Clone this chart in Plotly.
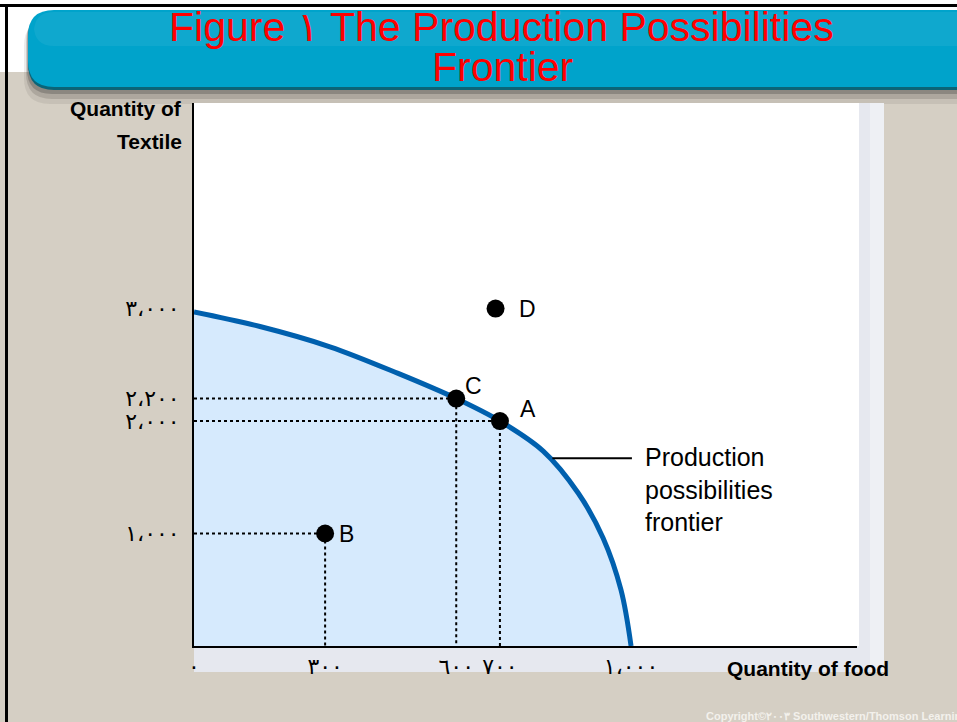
import plotly.graph_objects as go

# production possibilities frontier
ppf_food = [0, 151, 311, 467, 600, 700, 799, 879, 936, 977, 1000]
ppf_textile = [2970, 2840, 2660, 2423, 2200, 2000, 1733, 1360, 960, 498, 0]

point_names = ["A", "B", "C", "D"]
point_food = [700, 300, 600, 690]
point_textile = [2000, 1000, 2200, 3000]

x_tick_vals = [0, 300, 600, 700, 1000]
x_tick_text = ["٠", "٣٠٠", "٦٠٠", "٧٠٠", "١،٠٠٠"]
y_tick_vals = [1000, 2000, 2200, 3000]
y_tick_text = ["١،٠٠٠", "٢،٠٠٠", "٢،٢٠٠", "٣،٠٠٠"]

frontier_label = "Production<br>possibilities<br>frontier"
leader_food = [820, 1002]
leader_textile = 1670

# pixel box of the plot area
L, R, T, B = 194, 857, 103, 646
W, H = 957, 722


def X(px):
    return (px - L) / (R - L)


def Y(py):
    return (B - py) / (B - T)


def rect(x0, y0, x1, y1, color, **kw):
    return dict(type="rect", xref="paper", yref="paper", layer="below",
                x0=X(x0), x1=X(x1), y0=Y(y1), y1=Y(y0),
                fillcolor=color, line=dict(width=0), **kw)


def rounded(x0, y0, x1, y1, r):
    p = (f"M {X(x0 + r)},{Y(y0)} L {X(x1 - r)},{Y(y0)} "
         f"Q {X(x1)},{Y(y0)} {X(x1)},{Y(y0 + r)} L {X(x1)},{Y(y1 - r)} "
         f"Q {X(x1)},{Y(y1)} {X(x1 - r)},{Y(y1)} L {X(x0 + r)},{Y(y1)} "
         f"Q {X(x0)},{Y(y1)} {X(x0)},{Y(y1 - r)} L {X(x0)},{Y(y0 + r)} "
         f"Q {X(x0)},{Y(y0)} {X(x0 + r)},{Y(y0)} Z")
    return p


def bar(x0, y0, x1, y1, r, color):
    return dict(type="path", xref="paper", yref="paper", layer="below",
                path=rounded(x0, y0, x1, y1, r), fillcolor=color, line=dict(width=0))


TAN = "#d5cfc4"
shapes = [
    rect(0, 0, W, 72, "white"),
    # soft shadow under the header bar
    bar(24, 20, 990, 104, 26, "rgba(70,65,60,0.10)"),
    bar(26, 16, 990, 99, 26, "rgba(60,55,50,0.18)"),
    bar(27, 14, 990, 94, 25, "rgba(40,40,40,0.25)"),
    # slide panel
    rect(L, T, 884, 672, "#e6e8ef"),
    rect(L, T, 859, B, "white"),
    rect(870, T, 884, 672, "#eef0f4"),
    # header bar
    bar(28, 12, 985, 90, 26, "#0b6477"),
    bar(28, 10, 985, 87, 26, "#00a3cb"),
    bar(34, 12, 985, 46, 20, "rgba(255,255,255,0.06)"),
    # black frame
    rect(0, 4, W, 7, "black"),
    rect(5, 4, 8, H, "black"),
    # leader line to the frontier
    dict(type="line", xref="x", yref="y", x0=leader_food[0], x1=leader_food[1],
         y0=leader_textile, y1=leader_textile, line=dict(color="black", width=2)),
]

fig = go.Figure()

fig.add_trace(go.Scatter(
    x=ppf_food, y=ppf_textile, mode="lines", fill="tozeroy",
    fillcolor="#d6eafd", line=dict(color="#0060ae", width=5, shape="spline", smoothing=1.0),
    hoverinfo="skip"))

# dotted guide lines from the axes to A, B, C
gx, gy = [], []
for name, fx, ty in zip(point_names, point_food, point_textile):
    if name == "D":
        continue
    gx += [0, fx, fx, None]
    gy += [ty, ty, 0, None]
fig.add_trace(go.Scatter(x=gx, y=gy, mode="lines",
                         line=dict(color="black", width=2, dash="dot"), hoverinfo="skip"))

fig.add_trace(go.Scatter(x=point_food, y=point_textile, mode="markers",
                         marker=dict(color="black", size=18), hoverinfo="skip"))

label_shift = {"A": (18, 12), "B": (12, 0), "C": (7, 13), "D": (21, 0)}
annotations = []
for name, fx, ty in zip(point_names, point_food, point_textile):
    dx, dy = label_shift[name]
    annotations.append(dict(x=fx, y=ty, text=name, showarrow=False, xanchor="left",
                            yanchor="middle", xshift=dx, yshift=dy,
                            font=dict(family="Liberation Sans, Arial", size=23, color="black")))

annotations.append(dict(x=1028, y=1387, text=frontier_label, showarrow=False, align="left",
                        xanchor="left", yanchor="middle",
                        font=dict(family="Liberation Sans, Arial", size=25, color="black")))

bold = dict(family="Liberation Sans, Arial", size=21, color="black")
annotations += [
    dict(xref="paper", yref="paper", x=X(184), y=Y(109), text="<b>Quantity of</b>",
         showarrow=False, xanchor="right", yanchor="middle", font=bold),
    dict(xref="paper", yref="paper", x=X(184), y=Y(141), text="<b>Textile</b>",
         showarrow=False, xanchor="right", yanchor="middle", font=bold),
    dict(xref="paper", yref="paper", x=X(725), y=Y(668), text="<b>Quantity of food</b>",
         showarrow=False, xanchor="left", yanchor="middle", font=bold),
    dict(xref="paper", yref="paper", x=X(501), y=Y(27), text="Figure ١ The Production Possibilities",
         showarrow=False, xanchor="center", yanchor="middle",
         font=dict(family="Liberation Sans, Arial", size=41, color="#ff0000")),
    dict(xref="paper", yref="paper", x=X(502), y=Y(67), text="Frontier",
         showarrow=False, xanchor="center", yanchor="middle",
         font=dict(family="Liberation Sans, Arial", size=41, color="#ff0000")),
    dict(xref="paper", yref="paper", x=X(704), y=Y(716),
         text="<b>Copyright©٢٠٠٣ Southwestern/Thomson Learning</b>",
         showarrow=False, xanchor="left", yanchor="middle",
         font=dict(family="Liberation Sans, Arial", size=11, color="#f3f1ec")),
]

tick_font = dict(family="DejaVu Sans", size=22, color="black")
fig.update_layout(
    template="none",
    width=W, height=H,
    margin=dict(l=L, r=W - R, t=T, b=H - B, pad=0),
    paper_bgcolor=TAN, plot_bgcolor="rgba(0,0,0,0)",
    showlegend=False,
    shapes=shapes,
    annotations=annotations,
    xaxis=dict(range=[0, 1517], showgrid=False, zeroline=False, showline=True,
               linecolor="black", linewidth=2, ticks="", tickvals=x_tick_vals,
               ticktext=x_tick_text, tickfont=tick_font, ticklabelstandoff=0,
               automargin=False, fixedrange=True),
    yaxis=dict(range=[0, 4827], showgrid=False, zeroline=False, showline=True,
               linecolor="black", linewidth=2, ticks="", tickvals=y_tick_vals,
               ticktext=y_tick_text, tickfont=tick_font, ticklabelstandoff=8,
               automargin=False, fixedrange=True),
)

fig.write_html("out.html", config={"displayModeBar": False},
               post_script="document.body.style.margin='0';")
